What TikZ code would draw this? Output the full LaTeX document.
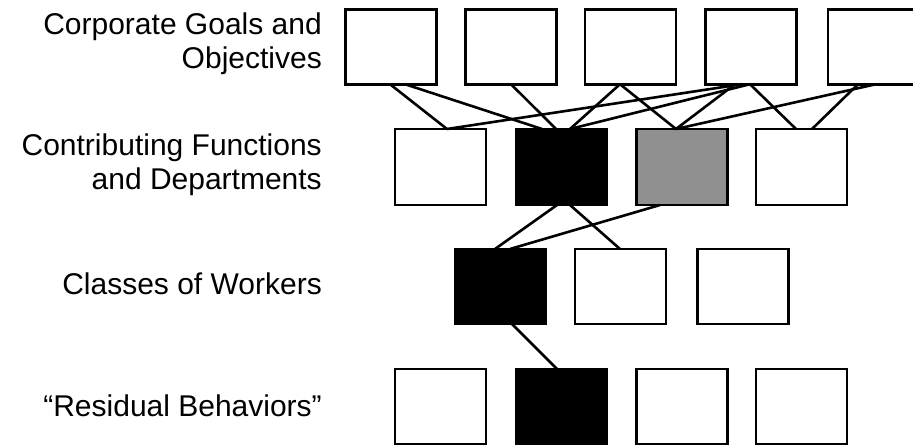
\documentclass[tikz,border=0pt]{standalone}
\usepackage{fontspec}
\setmainfont{Liberation Sans}
\begin{document}
\begin{tikzpicture}[x=1pt,y=-1pt,
  unitbox/.style={draw=black,line width=2.8pt,fill=white,inner sep=0pt,outer sep=0pt,
    minimum width=91pt,minimum height=75pt},
  blackbox/.style={unitbox,fill=black},
  greybox/.style={unitbox,fill=midgrey},
  link/.style={draw=black,line width=2.6pt},
  rowlabel/.style={anchor=base east,inner sep=0pt,align=right,
    font=\fontsize{30}{34}\selectfont}]
\definecolor{midgrey}{RGB}{144,144,144}
\useasboundingbox (0,0) rectangle (913,445);
\clip (0,0) rectangle (913,445);

% row labels (base anchor sits on the last line of each label)
\node[rowlabel] (lab1) at (322,68.5) {Corporate Goals and\\Objectives};
\node[rowlabel] (lab2) at (322,189) {Contributing Functions\\and Departments};
\node[rowlabel] (lab3) at (322,294) {Classes of Workers};
\node[rowlabel] (lab4) at (322,416.5) {“Residual Behaviors”};

% corporate goals
\node[unitbox] (r1a) at (391,46.7) {};
\node[unitbox] (r1b) at (511,46.7) {};
\node[unitbox] (r1c) at (630.5,46.7) {};
\node[unitbox] (r1d) at (751,46.7) {};
\node[unitbox,minimum width=92pt] (r1e) at (874,46.7) {};

% functions and departments
\node[unitbox,minimum height=76pt] (r2a) at (440.5,167) {};
\node[blackbox,minimum height=76pt] (r2b) at (561.5,167) {};
\node[greybox,minimum height=76pt] (r2c) at (682,167) {};
\node[unitbox,minimum height=76pt] (r2d) at (801.5,167) {};

% classes of workers
\node[blackbox] (r3a) at (500.5,286.5) {};
\node[unitbox] (r3b) at (620.5,286.5) {};
\node[unitbox] (r3c) at (743,286.5) {};

% residual behaviours
\node[unitbox] (r4a) at (440.5,406.5) {};
\node[blackbox] (r4b) at (561.5,406.5) {};
\node[unitbox] (r4c) at (682,406.5) {};
\node[unitbox] (r4d) at (801.5,406.5) {};

% goals -> functions
\draw[link] ([xshift=-1pt]r1a.south) -- ([xshift=6.5pt]r2a.north);
\draw[link] ([xshift=14pt]r1a.south) -- ([xshift=-19.5pt]r2b.north);
\draw[link] (r1b.south) -- ([xshift=-5.5pt]r2b.north);
\draw[link] ([xshift=-10.5pt]r1c.south) -- ([xshift=8.5pt]r2b.north);
\draw[link] ([xshift=-10.5pt]r1c.south) -- ([xshift=-6pt]r2c.north);
\draw[link] ([xshift=-9pt]r1d.south) -- ([xshift=6.5pt]r2a.north);
\draw[link] ([xshift=-1pt]r1d.south) -- ([xshift=8.5pt]r2b.north);
\draw[link] ([xshift=-16pt]r1d.south) -- ([xshift=-6pt]r2c.north);
\draw[link] ([xshift=-1pt]r1d.south) -- ([xshift=-5.5pt]r2d.north);
\draw[link] ([xshift=2pt]r1e.south) -- ([xshift=-6pt]r2c.north);
\draw[link] ([xshift=-16pt]r1e.south) -- ([xshift=10.5pt]r2d.north);

% functions -> classes of workers
\draw[link] ([xshift=-4.5pt]r2b.south) -- ([xshift=-5.5pt]r3a.north);
\draw[link] ([xshift=8.5pt]r2b.south) -- ([xshift=-0.5pt]r3b.north);
\draw[link] ([xshift=-22pt]r2c.south) -- ([xshift=9.5pt]r3a.north);

% classes of workers -> residual behaviours
\draw[link] ([xshift=11.5pt]r3a.south) -- ([xshift=-4.5pt]r4b.north);
\end{tikzpicture}
\end{document}
